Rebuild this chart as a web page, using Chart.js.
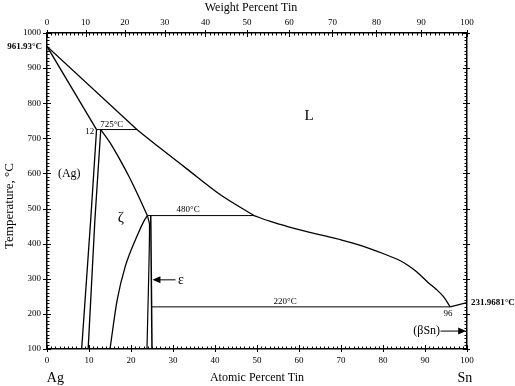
<!DOCTYPE html>
<html>
<head>
<meta charset="utf-8">
<script src="https://cdn.jsdelivr.net/npm/chart.js@4/dist/chart.umd.min.js"></script>
<style>
html, body { margin: 0; padding: 0; background: #fff; }
#wrap { width: 515px; height: 386px; }
</style>
</head>
<body>
<div id="wrap"><canvas id="c" width="515" height="386"></canvas></div>
<script>
var SERIF = "'Liberation Serif', 'Times New Roman', serif";

// Ag-Sn phase boundaries: atomic % Sn (X) against temperature in degC (T)
var LIQ_HIGH_X = [0, 21.4];
var LIQ_HIGH_T = [961.93, 725];
var LIQ_MID_X = [21.4, 26, 33.3, 41.2, 49.3];
var LIQ_MID_T = [725, 681, 613, 540, 480];
var LIQ_LOW_X = [49.3, 53, 57.5, 65.4, 70, 75, 80, 84, 86, 88, 90.8, 92.6, 94.4, 96];
var LIQ_LOW_T = [480, 464, 448, 424, 411, 394, 372, 352, 338, 320, 289, 271, 249, 220];
var LIQ_SN_X = [96, 100];
var LIQ_SN_T = [220, 231.9681];

var SOLIDUS_AG_X = [0, 11.8];
var SOLIDUS_AG_T = [961.93, 725];
var SOLVUS_AG_X = [11.8, 10.4, 8.25];
var SOLVUS_AG_T = [725, 467, 100];
var ZETA_LEFT_X = [12.8, 11.4, 9.8];
var ZETA_LEFT_T = [725, 467, 100];
var ZETA_SOLIDUS_X = [12.8, 15.0, 17.1, 19.4, 21.4, 23.9];
var ZETA_SOLIDUS_T = [725, 688, 645, 594, 545, 480];
var ZETA_RIGHT_X = [23.9, 23.2, 21.7, 18.6, 16.7, 15.0];
var ZETA_RIGHT_T = [480, 467, 429, 334, 239, 100];
var EPS_LEFT_X = [23.9, 24.4, 24.2, 23.8];
var EPS_LEFT_T = [480, 455, 300, 100];
var EPS_RIGHT_X = [24.7, 25.0];
var EPS_RIGHT_T = [480, 100];

// invariant lines
var ISO_725_X = [11.8, 21.4];
var ISO_480_X = [23.9, 49.3];
var ISO_220_X = [25.0, 96];

// axis ticks
var AT_TICKS = [0, 10, 20, 30, 40, 50, 60, 70, 80, 90, 100];
var WT_TICKS = [0, 10, 20, 30, 40, 50, 60, 70, 80, 90, 100];
var TEMP_TICKS = [100, 200, 300, 400, 500, 600, 700, 800, 900, 1000];
var M_AG = 107.8682;
var M_SN = 118.71;

// text on the diagram (x in at.%, t in degC)
var NOTES = [
    { text: '725°C', x: 15.4, t: 739, size: 9 },
    { text: '12', x: 10.2, t: 720, size: 9 },
    { text: 'L', x: 62.4, t: 763, size: 15 },
    { text: '(Ag)', x: 5.3, t: 598, size: 12 },
    { text: 'ζ', x: 17.6, t: 473, size: 15 },
    { text: '480°C', x: 33.6, t: 496, size: 9 },
    { text: '220°C', x: 56.7, t: 234, size: 9 },
    { text: '96', x: 95.5, t: 202, size: 9 },
    { text: 'ε', x: 31.9, t: 297, size: 14 },
    { text: '(βSn)', x: 90.4, t: 151, size: 12 }
];
var ARROWS = [
    { x1: 30.6, x2: 25.1, t: 297 },
    { x1: 93.7, x2: 99.8, t: 151 }
];

function wtToAt(w) {
    var sn = w / M_SN;
    var ag = (100 - w) / M_AG;
    return sn + ag === 0 ? 0 : 100 * sn / (sn + ag);
}

function pts(xs, ts) {
    var out = [];
    for (var i = 0; i < xs.length; i++) {
        out.push({ x: xs[i], y: ts[i] });
    }
    return out;
}

function line(xs, ts, width, smooth) {
    var ds = {
        data: pts(xs, ts),
        showLine: true,
        borderColor: '#000',
        borderWidth: width,
        pointRadius: 0,
        fill: false,
        tension: 0
    };
    if (smooth === 'mono') {
        ds.cubicInterpolationMode = 'monotone';
    } else if (smooth) {
        ds.tension = smooth;
    }
    return ds;
}

function flat(xs, t) {
    return line(xs, [t, t], 1);
}

var decorPlugin = {
    id: 'decor',
    afterDraw: function (chart) {
        var ctx = chart.ctx;
        var xs = chart.scales.x;
        var ys = chart.scales.y;
        var a = chart.chartArea;
        var i, p;

        ctx.save();
        ctx.strokeStyle = '#000';
        ctx.fillStyle = '#000';
        ctx.lineWidth = 1;

        function seg(x1, y1, x2, y2) {
            ctx.beginPath();
            ctx.moveTo(x1, y1);
            ctx.lineTo(x2, y2);
            ctx.stroke();
        }

        // bottom axis ticks (atomic %)
        for (i = 0; i <= 100; i++) {
            p = Math.round(xs.getPixelForValue(i)) + 0.5;
            if (i % 10 === 0) {
                seg(p, a.bottom - 4, p, a.bottom + 3);
            } else {
                seg(p, a.bottom, p, a.bottom - 2.5);
            }
        }
        // top axis ticks (weight %)
        for (i = 0; i <= 100; i++) {
            p = Math.round(xs.getPixelForValue(wtToAt(i))) + 0.5;
            if (i % 10 === 0) {
                seg(p, a.top - 3, p, a.top + 4);
            } else {
                seg(p, a.top, p, a.top + 2.5);
            }
        }
        // left and right axis ticks
        for (i = 100; i <= 1000; i += 10) {
            p = Math.round(ys.getPixelForValue(i)) + 0.5;
            if (i % 100 === 0) {
                seg(a.left - 4, p, a.left + 4, p);
                seg(a.right - 4, p, a.right + 3, p);
            } else {
                seg(a.left, p, a.left + 2.5, p);
                seg(a.right - 2.5, p, a.right, p);
            }
        }

        ctx.textAlign = 'center';
        ctx.textBaseline = 'middle';
        for (i = 0; i < NOTES.length; i++) {
            var n = NOTES[i];
            ctx.font = n.size + 'px ' + SERIF;
            ctx.fillText(n.text, xs.getPixelForValue(n.x), ys.getPixelForValue(n.t));
        }

        for (i = 0; i < ARROWS.length; i++) {
            var ar = ARROWS[i];
            var px1 = xs.getPixelForValue(ar.x1);
            var px2 = xs.getPixelForValue(ar.x2);
            var py = ys.getPixelForValue(ar.t);
            var dir = px2 > px1 ? -1 : 1;
            seg(px1, py, px2 + dir * 6, py);
            ctx.beginPath();
            ctx.moveTo(px2, py);
            ctx.lineTo(px2 + dir * 8, py - 3.5);
            ctx.lineTo(px2 + dir * 8, py + 3.5);
            ctx.closePath();
            ctx.fill();
        }

        // melting points
        ctx.font = 'bold 9px ' + SERIF;
        ctx.textAlign = 'right';
        ctx.fillText('961.93°C', a.left - 5, ys.getPixelForValue(961.93));
        ctx.textAlign = 'left';
        ctx.fillText('231.9681°C', a.right + 4, ys.getPixelForValue(231.9681));

        // titles
        ctx.font = '12px ' + SERIF;
        ctx.textAlign = 'center';
        ctx.fillText('Weight Percent Tin', 251, 8);
        ctx.fillText('Atomic Percent Tin', (a.left + a.right) / 2, 378);
        ctx.font = '14px ' + SERIF;
        ctx.fillText('Ag', xs.getPixelForValue(2), 378);
        ctx.fillText('Sn', xs.getPixelForValue(99.5), 378);
        ctx.font = '13px ' + SERIF;
        ctx.translate(10, 206);
        ctx.rotate(-Math.PI / 2);
        ctx.fillText('Temperature, °C', 0, 0);
        ctx.restore();
    }
};

Chart.defaults.font.family = SERIF;

new Chart(document.getElementById('c'), {
    type: 'scatter',
    data: {
        datasets: [
            line(LIQ_HIGH_X, LIQ_HIGH_T, 1.3),
            line(LIQ_MID_X, LIQ_MID_T, 1.3, 'mono'),
            line(LIQ_LOW_X, LIQ_LOW_T, 1.3, 'mono'),
            line(LIQ_SN_X, LIQ_SN_T, 1.3),
            line(SOLIDUS_AG_X, SOLIDUS_AG_T, 1.3),
            line(SOLVUS_AG_X, SOLVUS_AG_T, 1.3),
            line(ZETA_LEFT_X, ZETA_LEFT_T, 1.3),
            line(ZETA_SOLIDUS_X, ZETA_SOLIDUS_T, 1.3, 'mono'),
            line(ZETA_RIGHT_X, ZETA_RIGHT_T, 1.3, 'mono'),
            line(EPS_LEFT_X, EPS_LEFT_T, 1.2, 0.2),
            line(EPS_RIGHT_X, EPS_RIGHT_T, 1.5),
            flat(ISO_725_X, 725),
            flat(ISO_480_X, 480),
            flat(ISO_220_X, 220)
        ]
    },
    options: {
        responsive: false,
        animation: false,
        layout: { padding: 0 },
        plugins: {
            legend: { display: false },
            tooltip: { enabled: false }
        },
        scales: {
            x: {
                type: 'linear',
                position: 'bottom',
                min: 0,
                max: 100,
                afterFit: function (s) { s.height = 37; },
                afterBuildTicks: function (s) {
                    s.ticks = AT_TICKS.map(function (v) { return { value: v }; });
                },
                ticks: {
                    autoSkip: false,
                    maxRotation: 0,
                    padding: 6,
                    color: '#000',
                    font: { family: SERIF, size: 9 },
                    callback: function (v) { return String(v); }
                },
                grid: { display: false, drawTicks: false },
                border: { color: '#000', width: 1.5 }
            },
            xTop: {
                type: 'linear',
                position: 'top',
                min: 0,
                max: 100,
                afterFit: function (s) { s.height = 33; },
                afterBuildTicks: function (s) {
                    s.ticks = WT_TICKS.map(function (w) { return { value: wtToAt(w) }; });
                },
                ticks: {
                    autoSkip: false,
                    maxRotation: 0,
                    padding: 5,
                    color: '#000',
                    font: { family: SERIF, size: 9 },
                    callback: function (v, i) { return String(WT_TICKS[i]); }
                },
                grid: { display: false, drawTicks: false },
                border: { color: '#000', width: 1.5 }
            },
            y: {
                type: 'linear',
                position: 'left',
                min: 100,
                max: 1000,
                afterFit: function (s) { s.width = 47; },
                afterBuildTicks: function (s) {
                    s.ticks = TEMP_TICKS.map(function (v) { return { value: v }; });
                },
                ticks: {
                    autoSkip: false,
                    padding: 6,
                    color: '#000',
                    font: { family: SERIF, size: 9 },
                    callback: function (v) { return String(v); }
                },
                grid: { display: false, drawTicks: false },
                border: { color: '#000', width: 1.5 }
            },
            yRight: {
                type: 'linear',
                position: 'right',
                min: 100,
                max: 1000,
                afterFit: function (s) { s.width = 48; },
                ticks: { display: false },
                grid: { display: false, drawTicks: false },
                border: { color: '#000', width: 1.5 }
            }
        }
    },
    plugins: [decorPlugin]
});
</script>
</body>
</html>
